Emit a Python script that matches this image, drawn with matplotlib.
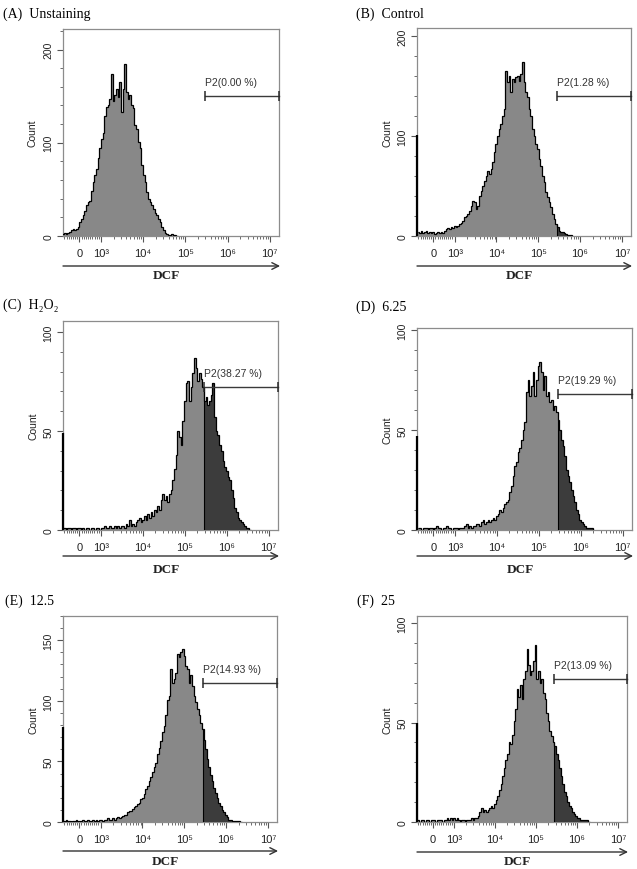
import numpy as np
import matplotlib
matplotlib.use("Agg")
import matplotlib.pyplot as plt
from matplotlib.ticker import FixedLocator, FixedFormatter, NullFormatter, MultipleLocator
from matplotlib.transforms import offset_copy

plt.rcParams['font.family'] = ['Liberation Sans', 'DejaVu Sans']

# ---------------- data ----------------
panel_letters = ['A', 'B', 'C', 'D', 'E', 'F']
panel_names = ['Unstaining', 'Control', 'H\u2082O\u2082', '6.25', '12.5', '25']
gate_percent = ['0.00', '1.28', '38.27', '19.29', '14.93', '13.09']
gate_start_decade = [5.46, 5.44, 5.45, 5.46, 5.44, 5.44]   # log10(DCF) where P2 gate starts
gate_level = [150, 140, 72, 68, 115, 72]                   # count level of P2 marker
edge_pileup = [0, 101, 49, 47, 78, 50]                     # events piled at the axis minimum
hist_start_decade = [2.107, 2.132, 2.107, 2.132, 2.107, 2.132]
BIN_W = 0.0397                                             # bin width in decades

counts_A = [2, 3, 2, 3, 4, 6, 7, 6, 7, 10, 15, 18, 22, 27, 33, 36, 38, 48, 58, 65, 72, 84, 94, 104, 111,
            129, 138, 140, 147, 174, 145, 151, 158, 149, 165, 133, 158, 185, 154, 147, 151, 140, 137, 119,
            115, 101, 94, 76, 65, 58, 47, 40, 36, 33, 29, 25, 22, 18, 15, 10, 6, 3, 2, 1, 1, 2, 1, 1, 0]
counts_B = [4, 3, 5, 3, 4, 5, 3, 4, 3, 4, 2, 3, 4, 3, 4, 3, 5, 7, 8, 7, 9, 8, 10, 9, 10, 12, 13, 15, 19, 20,
            22, 25, 30, 35, 34, 27, 30, 40, 45, 50, 55, 60, 65, 62, 67, 74, 84, 92, 100, 107, 112, 120, 127,
            165, 154, 160, 144, 157, 154, 159, 160, 155, 162, 174, 154, 144, 139, 127, 120, 107, 100, 92, 87,
            77, 70, 60, 54, 44, 39, 34, 29, 22, 17, 12, 9, 5, 4, 4, 3, 2, 1, 1, 1, 0]
counts_C = [1, 1, 0, 1, 1, 0, 1, 1, 0, 1, 1, 0, 1, 0, 1, 1, 0, 1, 1, 0, 1, 1, 0, 1, 1, 2, 1, 1, 2, 1, 1, 2,
            1, 2, 1, 2, 2, 1, 3, 2, 5, 2, 3, 2, 4, 5, 6, 4, 5, 7, 5, 8, 6, 9, 7, 10, 9, 12, 10, 15, 18, 15, 17,
            14, 18, 20, 25, 31, 38, 50, 47, 43, 55, 65, 74, 75, 65, 72, 79, 87, 82, 75, 79, 76, 72, 65, 67, 63,
            65, 68, 74, 57, 50, 48, 43, 40, 35, 32, 30, 27, 25, 20, 16, 11, 9, 6, 5, 4, 3, 2, 1, 1, 0]
counts_D = [1, 1, 0, 1, 1, 1, 0, 1, 1, 0, 1, 2, 1, 1, 0, 1, 1, 2, 1, 1, 0, 1, 1, 1, 0, 1, 1, 1, 2, 3, 1, 2,
            1, 2, 2, 3, 3, 2, 4, 5, 3, 4, 5, 4, 5, 6, 5, 7, 8, 10, 9, 11, 13, 14, 15, 19, 22, 27, 32, 34, 39,
            41, 45, 50, 54, 69, 75, 67, 72, 79, 67, 75, 82, 84, 79, 70, 77, 67, 69, 64, 65, 60, 62, 59, 55, 50,
            45, 42, 37, 30, 27, 24, 20, 17, 14, 10, 8, 5, 4, 3, 2, 1, 1, 1, 1, 0]
counts_E = [1, 1, 2, 1, 1, 0, 1, 1, 2, 1, 1, 1, 2, 1, 1, 2, 1, 1, 2, 1, 2, 1, 2, 2, 1, 2, 2, 3, 2, 2, 3, 2,
            3, 4, 3, 4, 5, 6, 6, 8, 9, 9, 11, 12, 13, 15, 16, 19, 20, 23, 27, 30, 34, 37, 41, 45, 49, 56, 61,
            67, 74, 79, 88, 101, 104, 126, 115, 118, 123, 139, 136, 140, 143, 137, 129, 126, 115, 121, 112,
            104, 99, 93, 88, 82, 77, 68, 60, 52, 45, 39, 34, 28, 24, 20, 16, 13, 10, 8, 6, 4, 2, 2, 1, 1, 1,
            1, 1, 0]
counts_F = [1, 0, 1, 1, 0, 1, 1, 0, 1, 1, 1, 0, 1, 1, 1, 0, 1, 1, 2, 1, 2, 1, 2, 1, 2, 1, 0, 1, 1, 0, 1, 1,
            1, 2, 1, 2, 2, 3, 5, 7, 5, 6, 5, 6, 7, 8, 7, 9, 11, 13, 16, 19, 23, 27, 31, 34, 40, 39, 44, 51, 57,
            67, 63, 69, 62, 72, 76, 87, 79, 74, 76, 81, 89, 72, 76, 70, 72, 65, 62, 55, 51, 46, 43, 40, 38, 34,
            31, 27, 23, 19, 15, 13, 10, 8, 7, 5, 4, 3, 2, 2, 1, 1, 1, 1, 1, 0]
all_counts = [counts_A, counts_B, counts_C, counts_D, counts_E, counts_F]

y_max = [222, 208, 105.5, 101, 170, 103.6]
y_major = [[0, 100, 200], [0, 100, 200], [0, 50, 100], [0, 50, 100], [0, 50, 100, 150], [0, 50, 100]]
y_minor_step = [20, 20, 10, 10, 10, 10]

x_major = [0, 1e3, 1e4, 1e5, 1e6, 1e7]
x_major_labels = ['0', '10\u00b3', '10\u2074', '10\u2075', '10\u2076', '10\u2077']

# ---------------- layout (pixels) ----------------
W, H = 637, 870
axes_px = [(63, 30, 279, 237), (417, 29, 631, 237),
           (63, 322, 278, 531), (417, 329, 632, 531),
           (63, 617, 277, 823), (417, 617, 627, 823)]
title_px = [(3, 14), (356, 14), (3, 305), (356, 307), (5, 601), (357, 601)]
arrow_off = [30, 30, 26, 26, 29, 30]
XLIM_DEC = (2.1, 7.22)

LINTHRESH = 1000
LINSCALE = 0.459
ZERO_DEC = 3 - LINSCALE / (1 - 1 / 10)

LIGHT = '#888888'
DARK = '#3c3c3c'
SPINE = '#8c8c8c'
TICKC = '#555555'
TXT = '#222222'

fig = plt.figure(figsize=(W / 100, H / 100), dpi=100)
fig.patch.set_facecolor('white')

minor_x = [k * 10.0 ** e for e in range(3, 7) for k in range(2, 10)]
minor_x += [v for v in range(-700, 1000, 100) if v != 0]

for i in range(6):
    l, t, r, b = axes_px[i]
    ax = fig.add_axes([l / W, 1 - b / H, (r - l) / W, (b - t) / H])
    ax.set_xscale('symlog', base=10, linthresh=LINTHRESH, linscale=LINSCALE)
    inv = ax.xaxis.get_transform().inverted()

    def dec2val(d, inv=inv):
        d = np.atleast_1d(np.asarray(d, dtype=float))
        return inv.transform(((d - ZERO_DEC) * LINTHRESH).reshape(-1, 1)).ravel()

    xl = dec2val(XLIM_DEC)
    ax.set_xlim(xl[0], xl[1])
    ax.set_ylim(0, y_max[i])

    counts = np.asarray(all_counts[i], dtype=float)
    n = len(counts)
    edges_dec = hist_start_decade[i] - BIN_W / 2 + BIN_W * np.arange(n + 1)
    edges = dec2val(edges_dec)
    ax.stairs(counts, edges, fill=True, facecolor=LIGHT, edgecolor='none', baseline=0, zorder=2)

    g = gate_start_decade[i]
    k = int(np.searchsorted(edges_dec, g))
    if 0 < k <= n:
        gd_edges = np.concatenate([[g], edges_dec[k:]])
        gd_counts = counts[k - 1:]
        ax.stairs(gd_counts, dec2val(gd_edges), fill=True, facecolor=DARK, edgecolor='none',
                  baseline=0, zorder=3)
        ax.vlines(dec2val(g)[0], 0, counts[k - 1], color='black', lw=0.8, zorder=4)
    ax.stairs(counts, edges, fill=False, edgecolor='black', lw=0.9, zorder=4, baseline=None)

    if edge_pileup[i] > 0:
        ax.vlines(xl[0], 0, edge_pileup[i], color='black', lw=1.6, clip_on=False, zorder=6)

    # gate marker
    gx = dec2val([g, XLIM_DEC[1]])
    lvl = gate_level[i]
    ax.plot(gx, [lvl, lvl], color='#3a3a3a', lw=1.0, clip_on=False, zorder=6)
    ax.plot(gx, [lvl, lvl], ls='none', marker='|', ms=6.5, mew=1.1, color='#2a2a2a',
            clip_on=False, zorder=6)
    ax.annotate(f'P2({gate_percent[i]} %)', xy=(gx[0], lvl), xytext=(0, 10),
                textcoords='offset points', ha='left', va='center', fontsize=7.5, color='#333333')

    # spines
    for s in ax.spines.values():
        s.set_color(SPINE)
        s.set_linewidth(0.9)

    # x ticks
    ax.xaxis.set_major_locator(FixedLocator(x_major))
    ax.xaxis.set_major_formatter(FixedFormatter(x_major_labels))
    ax.xaxis.set_minor_locator(FixedLocator(minor_x))
    ax.xaxis.set_minor_formatter(NullFormatter())
    ax.tick_params(axis='x', which='major', direction='out', length=4, width=0.8, color=TICKC,
                   pad=4.5, labelsize=8, labelcolor=TXT)
    ax.tick_params(axis='x', which='minor', direction='out', length=2.2, width=0.6, color=TICKC)

    # y ticks
    ax.yaxis.set_major_locator(FixedLocator(y_major[i]))
    ax.yaxis.set_minor_locator(MultipleLocator(y_minor_step[i]))
    ax.tick_params(axis='y', which='major', direction='out', length=4, width=0.8, color=TICKC,
                   pad=3, labelsize=7.5, labelcolor=TXT, labelrotation=90)
    ax.tick_params(axis='y', which='minor', direction='out', length=2.2, width=0.6, color=TICKC)
    for lab in ax.get_yticklabels():
        lab.set_va('center')

    ax.text(-0.139, 0.5, 'Count', transform=ax.transAxes, rotation=90, ha='center', va='center',
            fontsize=7.5, color=TXT)

    # DCF arrow and label
    tr_arrow = offset_copy(ax.transAxes, fig=fig, x=0, y=-arrow_off[i], units='dots')
    ax.annotate('', xy=(1.005, 0), xytext=(0, 0), xycoords=tr_arrow, textcoords=tr_arrow,
                arrowprops=dict(arrowstyle='->', color='#333333', lw=1.0, shrinkA=0, shrinkB=0,
                                mutation_scale=12),
                annotation_clip=False)
    tr_lab = offset_copy(ax.transAxes, fig=fig, x=0, y=-39, units='dots')
    ax.text(0.48, 0, 'DCF', transform=tr_lab, ha='center', va='center', fontsize=9.5,
            fontweight='bold', family=['Liberation Serif', 'DejaVu Serif'], color=TXT)

    tx, ty = title_px[i]
    fig.text(tx / W, 1 - ty / H, f'({panel_letters[i]})  {panel_names[i]}', ha='left', va='center',
             fontsize=10, family=['Liberation Serif', 'DejaVu Serif'], color='black')

fig.savefig('out.png', dpi=100, facecolor='white')
